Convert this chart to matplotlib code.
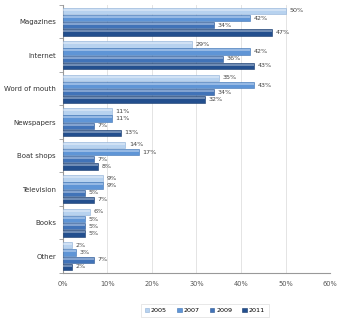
import numpy as np
import matplotlib.pyplot as plt

# categories and values per survey year (percent)
categories = ["Magazines", "Internet", "Word of mouth", "Newspapers",
              "Boat shops", "Television", "Books", "Other"]
years = ["2005", "2007", "2009", "2011"]
v2005 = [50, 29, 35, 11, 14, 9, 6, 2]
v2007 = [42, 42, 43, 11, 17, 9, 5, 3]
v2009 = [34, 36, 34, 7, 7, 5, 5, 7]
v2011 = [47, 43, 32, 13, 8, 7, 5, 2]
series = [v2005, v2007, v2009, v2011]

colors = ["#b7d2ef", "#5f95d6", "#4173b8", "#234f8e"]
edges = ["#8fb0d6", "#3f73b3", "#2c5792", "#173a6c"]

fig = plt.figure(figsize=(3.55, 3.26), dpi=100)
ax = fig.add_axes([0.177, 0.163, 0.753, 0.822])

y = np.arange(len(categories))
step = 0.215
h = 0.19
for i, vals in enumerate(series):
    pos = y - 1.5 * step + i * step
    ax.barh(pos, vals, height=h, color=colors[i], edgecolor=edges[i],
            linewidth=0.4, label=years[i], zorder=3)
    # light highlight stripe for the glossy look
    ax.barh(pos - h * 0.18, vals, height=h * 0.3, color="white",
            alpha=0.35, linewidth=0, zorder=4)
    for p, v in zip(pos, vals):
        ax.text(v + 0.8, p, f"{v}%", va="center", ha="left",
                fontsize=4.6, color="#444444", zorder=5)

ax.set_xlim(0, 60)
ax.set_ylim(len(categories) - 0.5, -0.5)
ax.set_xticks(np.arange(0, 61, 10))
ax.set_xticklabels([f"{t}%" for t in range(0, 61, 10)], fontsize=4.8, color="#555555")
ax.set_yticks(y)
ax.set_yticklabels(categories, fontsize=5, color="#333333")
ax.set_yticks(np.arange(-0.5, len(categories), 1), minor=True)
ax.tick_params(axis="y", which="major", length=0, pad=5)
ax.tick_params(axis="y", which="minor", length=3, color="#999999", width=0.6)
ax.tick_params(axis="x", length=0, pad=6)

ax.grid(axis="x", color="#e4e4e4", linewidth=0.7, zorder=0)
for s in ["top", "right"]:
    ax.spines[s].set_visible(False)
ax.spines["left"].set_color("#999999")
ax.spines["bottom"].set_color("#999999")
ax.spines["left"].set_linewidth(0.8)
ax.spines["bottom"].set_linewidth(0.8)

handles, labels = ax.get_legend_handles_labels()
leg = fig.legend(handles, labels, loc="center", bbox_to_anchor=(0.577, 0.048),
                 ncol=4, fontsize=4.6, frameon=True, handlelength=0.7,
                 handleheight=0.7, columnspacing=1.6, handletextpad=0.3,
                 borderpad=0.6, fancybox=False)
leg.get_frame().set_edgecolor("#dddddd")
leg.get_frame().set_linewidth(0.6)

fig.savefig("out.png", dpi=100)
